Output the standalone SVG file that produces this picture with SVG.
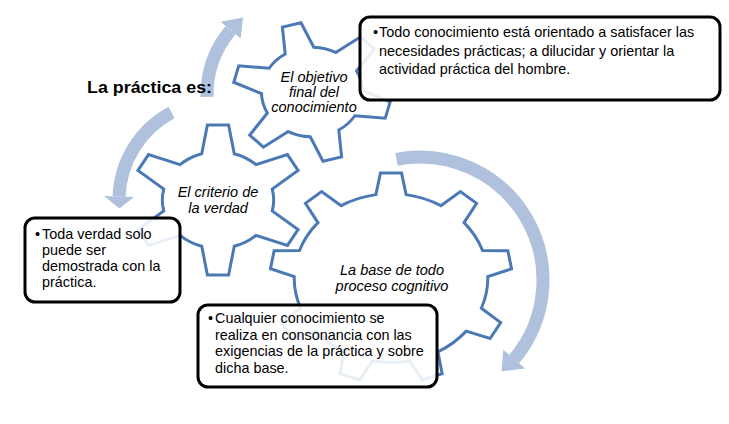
<svg xmlns="http://www.w3.org/2000/svg" width="729" height="424" viewBox="0 0 729 424">
<defs>
<style>
.gear{fill:#fff;stroke:#4A79B5;stroke-width:3;stroke-linejoin:miter}
.box{fill:#fff;fill-opacity:0.88;stroke:#000;stroke-width:3}
.t{font-family:"Liberation Sans",Arial,sans-serif;font-size:14.4px;fill:#000}
.g{font-family:"Liberation Sans",Arial,sans-serif;font-size:14.5px;font-style:italic;text-anchor:middle;fill:#000}
.arc{fill:none;stroke:#AFC1DD;stroke-width:13}
.head{fill:#AFC1DD}
.title{font-family:"Liberation Sans",Arial,sans-serif;font-size:17px;font-weight:bold;fill:#000}
</style>
<path id="g6" vector-effect="non-scaling-stroke" d="M61.20,-18.71 L99.25,-12.19 L99.25,12.19 L61.20,18.71 A64,64 0 0 1 46.81,43.65 L60.18,79.86 L39.07,92.05 L14.40,62.36 A64,64 0 0 1 -14.40,62.36 L-39.07,92.05 L-60.18,79.86 L-46.81,43.65 A64,64 0 0 1 -61.20,18.71 L-99.25,12.19 L-99.25,-12.19 L-61.20,-18.71 A64,64 0 0 1 -46.81,-43.65 L-60.18,-79.86 L-39.07,-92.05 L-14.40,-62.36 A64,64 0 0 1 14.40,-62.36 L39.07,-92.05 L60.18,-79.86 L46.81,-43.65 A64,64 0 0 1 61.20,-18.71 Z"/>
<path id="g9" vector-effect="non-scaling-stroke" d="M79.02,-12.51 L99.62,-8.72 L99.62,8.72 L79.02,12.51 A80,80 0 0 1 68.57,41.20 L81.92,57.36 L70.71,70.71 L52.48,60.38 A80,80 0 0 1 26.05,75.64 L25.88,96.59 L8.72,99.62 L1.40,79.99 A80,80 0 0 1 -28.67,74.69 L-42.26,90.63 L-57.36,81.92 L-50.35,62.17 A80,80 0 0 1 -69.97,38.78 L-90.63,42.26 L-96.59,25.88 L-78.53,15.26 A80,80 0 0 1 -78.53,-15.26 L-96.59,-25.88 L-90.63,-42.26 L-69.97,-38.78 A80,80 0 0 1 -50.35,-62.17 L-57.36,-81.92 L-42.26,-90.63 L-28.67,-74.69 A80,80 0 0 1 1.40,-79.99 L8.72,-99.62 L25.88,-96.59 L26.05,-75.64 A80,80 0 0 1 52.48,-60.38 L70.71,-70.71 L81.92,-57.36 L68.57,-41.20 A80,80 0 0 1 79.02,-12.51 Z"/>
</defs>
<rect width="729" height="424" fill="#fff"/>

<g id="connectors">
<path class="arc" d="M207.0,96.8 A101,101 0 0 1 230.6,30.1"/>
<polygon class="head" points="220.7,21.7 243.1,17.6 240.6,38.4"/>
<path class="arc" d="M171.5,112.6 A99,99 0 0 0 119.1,196.5"/>
<polygon class="head" points="104.1,196.0 119.4,208.6 134.1,197.1"/>
<path class="arc" d="M396.5,159.3 A123,123 0 0 1 514.2,359.1"/>
<polygon class="head" points="503.3,349.7 501.6,371.2 525.2,368.4"/>
</g>

<g id="gear3">
<use href="#g9" class="gear" transform="translate(391,278) scale(1.21,1.055) rotate(-90)"/>
<text class="g" x="392" y="275">La base de todo</text>
<text class="g" x="392" y="291">proceso cognitivo</text>
</g>

<g id="gear2">
<use href="#g6" class="gear" transform="translate(218,200) scale(0.87,0.755) rotate(-90)"/>
<text class="g" x="218" y="197">El criterio de</text>
<text class="g" x="218" y="213">la verdad</text>
</g>

<g id="gear1">
<use href="#g6" class="gear" transform="translate(312,92) scale(0.79,0.7) rotate(-105)"/>
<text class="g" x="314" y="82">El objetivo</text>
<text class="g" x="314" y="97">final del</text>
<text class="g" x="314" y="112">conocimiento</text>
</g>

<g id="title">
<text class="title" x="87" y="93" textLength="125" lengthAdjust="spacingAndGlyphs">La práctica es:</text>
</g>

<g id="box1">
<rect class="box" x="360" y="17" width="360" height="83" rx="10"/>
<text class="t" x="373" y="37">•</text>
<text class="t" x="379" y="37">Todo conocimiento está orientado a satisfacer las</text>
<text class="t" x="379" y="55.5">necesidades prácticas; a dilucidar y orientar la</text>
<text class="t" x="379" y="74">actividad práctica del hombre.</text>
</g>

<g id="box2">
<rect class="box" x="25" y="218" width="155" height="84" rx="10"/>
<text class="t" x="35" y="238.5">•</text>
<text class="t" x="42" y="238.5">Toda verdad solo</text>
<text class="t" x="42" y="254.5">puede ser</text>
<text class="t" x="42" y="270.5">demostrada con la</text>
<text class="t" x="42" y="286.5">práctica.</text>
</g>

<g id="box3">
<rect class="box" x="198" y="305" width="239" height="82" rx="10"/>
<text class="t" x="208" y="323">•</text>
<text class="t" x="215" y="323">Cualquier conocimiento se</text>
<text class="t" x="215" y="339.5">realiza en consonancia con las</text>
<text class="t" x="215" y="356">exigencias de la práctica y sobre</text>
<text class="t" x="215" y="372.5">dicha base.</text>
</g>
</svg>
